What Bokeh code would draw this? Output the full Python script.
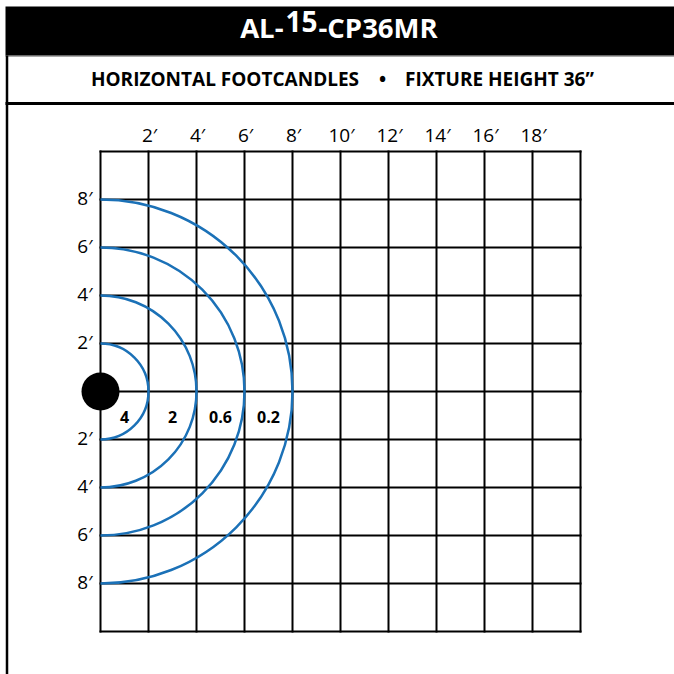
import math
from bokeh.plotting import figure
from bokeh.models import Range1d, ColumnDataSource
from bokeh.core.properties import value
from bokeh.embed import file_html
from bokeh.resources import INLINE

# ---------------- data ----------------
grid_x = [0, 2, 4, 6, 8, 10, 12, 14, 16, 18, 20]
grid_y = [-10, -8, -6, -4, -2, 0, 2, 4, 6, 8, 10]
top_tick_vals = [2, 4, 6, 8, 10, 12, 14, 16, 18]
top_tick_labels = ["2′", "4′", "6′", "8′", "10′", "12′", "14′", "16′", "18′"]
left_tick_vals = [8, 6, 4, 2, -2, -4, -6, -8]
left_tick_labels = ["8′", "6′", "4′", "2′", "2′", "4′", "6′", "8′"]
contour_radius = [2, 4, 6, 8]
contour_fc = ["4", "2", "0.6", "0.2"]
contour_label_x = [1, 3, 5, 7]
contour_label_y = [-1, -1, -1, -1]
fixture_x = [0]
fixture_y = [0]

title_parts = ["AL-", "15", "-CP36MR"]
subtitle_parts = ["HORIZONTAL FOOTCANDLES", "•", "FIXTURE HEIGHT 36”"]

BLUE = "#1b71b7"
FONT = value("Open Sans")

# layout helpers (reference pixel -> data units, 24 px per foot)
def X(px):
    return (px - 100) / 24.0

def Y(py):
    return (391 - py) / 24.0

p = figure(width=674, height=674,
           x_range=Range1d(X(0), X(674)), y_range=Range1d(Y(674), Y(0)),
           output_backend="svg", toolbar_location=None,
           x_axis_type=None, y_axis_type=None, min_border=0,
           outline_line_color=None, background_fill_color="white",
           border_fill_color="white")
p.xgrid.grid_line_color = None
p.ygrid.grid_line_color = None

# ---------------- frame / header ----------------
p.quad(left=[X(5)], right=[X(700)], top=[Y(6)], bottom=[Y(55)],
       fill_color="black", line_color=None)
p.segment(x0=[X(5)], y0=[Y(55.5)], x1=[X(700)], y1=[Y(55.5)],
          line_color="#555555", line_width=1)
p.segment(x0=[X(6.5)], y0=[Y(55)], x1=[X(6.5)], y1=[Y(700)],
          line_color="black", line_width=2.5)
p.segment(x0=[X(5)], y0=[Y(103)], x1=[X(700)], y1=[Y(103)],
          line_color="black", line_width=3)

# title
p.text(x=[X(283)], y=[Y(27)], text=[title_parts[0]],
       text_font=FONT, text_font_style="bold", text_font_size="27.5px",
       text_color="white", text_align="right", text_baseline="alphabetic")
p.text(x=[X(285)], y=[Y(21)], text=[title_parts[1]],
       text_font=FONT, text_font_style="bold", text_font_size="28px",
       text_color="white", text_align="left", text_baseline="alphabetic")
p.text(x=[X(318)], y=[Y(27)], text=[title_parts[2]],
       text_font=FONT, text_font_style="bold", text_font_size="27.5px",
       text_color="white", text_align="left", text_baseline="alphabetic")

# subtitle
p.text(x=[X(224.5), X(382), X(499)], y=[Y(78.5)] * 3, text=subtitle_parts,
       text_font=FONT, text_font_style="bold", text_font_size="19px",
       text_color="black", text_align="center", text_baseline="alphabetic")

# ---------------- grid ----------------
p.segment(x0=grid_x, y0=[min(grid_y)] * len(grid_x), x1=grid_x, y1=[max(grid_y)] * len(grid_x),
          line_color="black", line_width=2, line_cap="square")
p.segment(x0=[min(grid_x)] * len(grid_y), y0=grid_y, x1=[max(grid_x)] * len(grid_y), y1=grid_y,
          line_color="black", line_width=2, line_cap="square")

# tick labels
p.text(x=top_tick_vals, y=[max(grid_y)] * len(top_tick_vals), text=top_tick_labels,
       text_font=FONT, text_font_size="19px", text_color="black",
       text_align="center", text_baseline="alphabetic", y_offset=-17, x_offset=1)
p.text(x=[0] * len(left_tick_vals), y=left_tick_vals, text=left_tick_labels,
       text_font=FONT, text_font_size="19px", text_color="black",
       text_align="right", text_baseline="alphabetic", x_offset=-8, y_offset=-2)

# ---------------- isofootcandle contours ----------------
src = ColumnDataSource(dict(x=[0] * len(contour_radius), y=[0] * len(contour_radius),
                            r=contour_radius))
p.arc(x="x", y="y", radius="r", start_angle=-math.pi / 2, end_angle=math.pi / 2,
      direction="anticlock", line_color=BLUE, line_width=2.5, source=src)

p.text(x=contour_label_x, y=contour_label_y, text=contour_fc,
       text_font=FONT, text_font_style="bold", text_font_size="16px",
       text_color="black", text_align="center", text_baseline="alphabetic", y_offset=1)

# fixture
p.scatter(x=fixture_x, y=fixture_y, size=38, fill_color="black", line_color=None)

open("out.html", "w").write(file_html(p, INLINE))
